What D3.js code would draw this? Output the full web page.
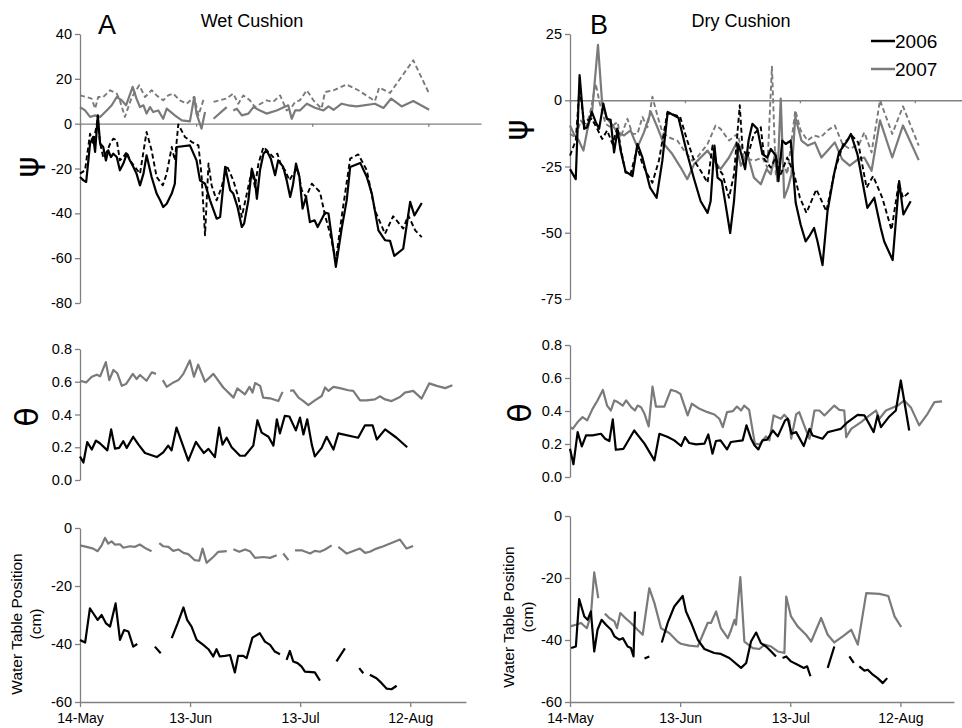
<!DOCTYPE html>
<html>
<head>
<meta charset="utf-8">
<script src="https://cdn.jsdelivr.net/npm/d3@7"></script>
<style>
  body { margin: 0; background: #fff; }
  svg text { font-family: Arial, "Liberation Sans", sans-serif; fill: #000; }
  .axis path, .axis line { stroke: #808080; stroke-width: 1.3; }
  .axis text { font-size: 14.5px; }
</style>
</head>
<body>
<div id="chart"></div>
<script>
// days since 14-May; null value = gap in record
const dateTicks  = [0, 30, 60, 90];
const dateLabels = ["14-May", "13-Jun", "13-Jul", "12-Aug"];
const years = ["2006", "2007"];

// ---- Wet cushion, water potential
const wetPsi06 = [[0,-23.8],[0.9,-25.3],[1.6,-26],[2.6,-8.9],[3.4,-5.9],[3.9,-12.6],[4.6,3.7],[5.2,-8.9],[6,-10.4],[6.7,-16.4],[7.3,-11.9],[8,-14.9],[8.6,-13.4],[9.5,-14.9],[10.3,-20.8],[11.2,-17.8],[12.1,-13.4],[12.9,-16.4],[13.8,-19.3],[14.6,-22.3],[15.5,-27.5],[16.4,-22.3],[17.2,-14.1],[18.5,-23.8],[19.8,-31.2],[20.7,-34.2],[21.5,-37.2],[22.4,-35.7],[23.7,-31.2],[24.5,-26.8],[25,-10.4],[28.4,-9.7],[30.1,-16.4],[31,-25.3],[32.3,-26.8],[33.6,-34.2],[35.3,-42.4],[36.2,-41.6],[37.5,-19.3],[38.8,-29.7],[39.6,-31.2],[40.7,-37.2],[41.8,-46.1],[42.4,-44.6],[43.5,-34.2],[44.4,-20.1],[45.2,-25.3],[45.7,-33.5],[46.5,-20.8],[47.4,-13.4],[48.2,-11.9],[49.3,-15.6],[50.4,-23],[51.2,-16.4],[52.5,-19.3],[53.4,-25.3],[54.3,-32.7],[55,-27.5],[55.8,-17.8],[56.7,-23.8],[57.5,-37.9],[58.4,-32.7],[59.4,-43.9],[60.6,-43.1],[61.4,-46.1],[63.3,-39.7],[64.2,-40.1],[66.1,-63.9],[67.6,-46.8],[68.9,-34.2],[69.8,-19.3],[72.4,-17.5],[74.1,-23.8],[75.4,-31.2],[77.1,-47.6],[78.8,-52],[80.1,-52.3],[81.2,-59],[83.5,-55.8],[85.3,-34.9],[86.4,-40.9],[88.3,-35.4]];
const wetPsi06b = [[0,-22.3],[1.3,-20.8],[2.6,-4.5],[3.4,-8.9],[4.6,2.2],[5.2,-8.9],[6,-14.9],[6.9,-12.6],[7.8,-8.9],[8.6,-6.7],[9.5,-7.4],[10.3,-16.4],[11.2,-14.9],[12.1,-12.6],[12.9,-16.4],[14.2,-19.3],[15.5,-22.3],[17.2,-3.7],[18.5,-11.9],[19.8,-23.8],[21.4,-27.5],[22.4,-22.3],[23.7,-10.4],[24.5,-16.4],[25.4,-0.3],[27.1,-5.9],[28.9,-8.2],[30.6,-9.7],[31.4,-23],[32.3,-49.8],[33.2,-17.8],[34,-27.5],[35.3,-34.2],[36.6,-28.3],[37.9,-18.6],[39.6,-25.3],[40.9,-32.7],[41.8,-41.6],[43.1,-31.2],[44.4,-20.8],[45.2,-28.3],[46.1,-17.8],[47.4,-10.4],[48.7,-12.6],[49.9,-14.9],[51,-13.4],[52.1,-19.3],[53,-20.8],[54.1,-25.3],[55.1,-22.3],[56.2,-20.1],[57.3,-29.7],[58.4,-32.7],[59.9,-26.8],[62,-30.5],[63.3,-40.9],[64.6,-49.1],[66.1,-61],[67.6,-41.6],[69.8,-15.6],[71.9,-13.7],[74.1,-20.8],[76.2,-38.7],[78.8,-49.1],[80.9,-41.3],[83.5,-46.8],[84.8,-40.9],[86.6,-47.6],[88.3,-50.6]];
const wetPsi07 = [[0,7.4],[1.3,5.9],[2.6,3],[3.9,3.7],[5.2,3],[6.9,5.9],[8.2,8.2],[9.5,11.9],[10.8,10.4],[11.9,8.2],[13.6,16.4],[14.6,11.2],[15.5,7.4],[16.4,8.2],[17.2,4.5],[18.1,7.4],[18.9,5.2],[20.2,5.9],[21.5,2.2],[22.4,6.7],[24.5,3.7],[26.3,1.5],[28.4,1],[29.5,11.9],[30.1,4.5],[31.4,-2.2],[32.3,5.2],[33.4,null],[34.5,2.2],[37.9,7.4],[38.8,null],[39.6,5.9],[40.5,6.7],[41.8,3.7],[43.5,4.5],[44.8,7.4],[46.5,5.9],[48.2,4.5],[50.8,5.9],[53.8,8.2],[54.7,2.2],[55.6,5.9],[56.8,5.9],[58.6,8.9],[60.7,7.1],[62.9,5.9],[64.2,7.7],[65.5,6.2],[67.6,8.9],[69.3,8.2],[71.5,7.7],[76.2,8.9],[78.4,7],[80.4,11.2],[83.1,7.7],[86.1,10.1],[90.2,6.2]];
const wetPsi07b = [[0,12.6],[1.7,11.9],[3,11.2],[3.9,6.7],[4.7,11.9],[6,11.9],[7.8,14.9],[9.5,13.4],[10.3,10.4],[11.6,3],[13.4,11.9],[15.3,17.1],[16.8,11.9],[18.5,14.9],[19.8,12.6],[21.5,10.4],[22.8,12.6],[24.1,13.4],[25.8,10.4],[27.6,8.9],[29.5,11.9],[30.6,3.7],[32,11.2],[33.2,null],[34.5,9.7],[37.9,11.2],[39.6,13.4],[40.9,8.9],[42.2,12.6],[43.9,10.4],[45.2,7.4],[48.2,10.4],[49.9,9.7],[51.7,12.6],[53.4,5.9],[54.7,7.4],[55.6,9.7],[56.8,10.4],[58.6,14.9],[60.3,10.4],[62.4,6.7],[63.3,14.1],[65.5,14.9],[68.9,17.5],[71.9,14.9],[76.2,10.1],[77.3,16.1],[80.1,13.7],[86.1,28.3],[90.2,13.4]];

// ---- Dry cushion, water potential
const dryPsi06 = [[0,-26],[1.5,-29.8],[2.5,9.5],[3.7,-10.8],[4.5,-10.2],[5.7,-4.4],[6.7,-8.2],[7.6,-10.8],[8.7,-1.3],[9.6,-7],[10.6,-7.4],[11.5,-19.7],[12.4,-11.2],[13.2,-19],[14.5,-26.9],[16.3,-28.6],[17.6,-16.5],[18.9,-21.6],[20.9,-33],[22.6,-36.8],[24.1,-22.8],[25.5,-4.4],[28.3,-6.6],[30.6,-20.3],[32.4,-29.8],[34.1,-38.1],[35.9,-42.5],[36.7,-38.1],[37.7,-17.1],[38.5,-29.2],[39.6,-30.5],[40.6,-39.3],[41.8,-50.1],[42.8,-38.1],[43.9,-16.5],[44.7,-20.3],[45.7,-26],[46.6,-15.2],[47.6,-8.9],[48.9,-10.8],[50.2,-20.3],[51.5,-21.6],[52.4,-18.4],[53.7,-20.9],[54.4,-30.5],[55.4,-15.2],[56.3,-16.5],[57.6,-15.2],[58.9,-38.7],[60.2,-47],[61.5,-53.3],[62.4,-51.4],[63.7,-48.2],[64.6,-53.3],[65.9,-62.2],[67.2,-41.9],[68.9,-27.9],[70.2,-19.7],[72.4,-15.2],[73.3,-12.7],[75,-20.3],[77.6,-40.6],[79.4,-36.8],[81.1,-48.2],[82,-53.3],[84.2,-60.3],[85.9,-30.5],[87,-43.1],[88.9,-38.1]];
const dryPsi06b = [[0,-20.9],[1.5,-15.2],[2.5,5.1],[3.7,-8.9],[4.5,-7.6],[5.7,-7],[7.1,-10.8],[8.4,-14.6],[9.7,-11.4],[11.1,-16.5],[12.4,-10.2],[13.2,-17.8],[14.5,-27.3],[15.8,-27.9],[17.6,-17.8],[18.9,-24.1],[20.2,-27.9],[21.5,-31.1],[23.2,-22.8],[25.4,-4.8],[28.7,-6.1],[30.6,-15.2],[32.4,-22.8],[34.1,-26.6],[35.9,-31.1],[37.2,-17.1],[38.5,-25.4],[39.8,-27.9],[41.5,-36.8],[42.8,-27.9],[44.3,-1.9],[45,-17.8],[46.3,-21.6],[48,-12.7],[49.8,-10.2],[50.7,-22.2],[52.4,-25.4],[53.7,-21.6],[55,-27.9],[56.7,-21.6],[58.5,-27.9],[60,-36.8],[61.7,-42.5],[64.3,-33.6],[66.9,-41.9],[69.1,-26.6],[71.3,-16.5],[73.5,-13.3],[75.2,-15.9],[77.4,-33],[79.1,-28.6],[81.5,-36.8],[83.9,-48.9],[85.8,-31.1],[86.9,-36.8],[88.7,-34.5]];
const dryPsi07 = [[0,-9.5],[1,-12.7],[2.3,-15.2],[3.5,-19],[4.5,-11.4],[5.8,-3.8],[7.3,20.9],[8.4,-1.3],[9.7,-7],[11.1,-9.5],[12.4,-12.1],[14.1,-13.3],[15.8,-11.4],[17.6,-17.8],[19.3,-12.1],[21.1,-4.4],[22.8,-10.2],[24.5,-16.5],[26.7,-20.3],[28.9,-25.4],[30.6,-29.8],[32.4,-24.1],[34.1,-21.6],[35.9,-19],[37.6,-22.8],[39.3,-26],[41.5,-21.6],[43.3,-16.5],[44.6,-24.7],[46.3,-20.3],[48,-29.2],[49.8,-31.7],[51.3,-26],[52.4,-27.9],[53.6,-19.7],[54.1,-30.5],[55,0.6],[55.9,-36.8],[56.9,-33],[57.8,-27.9],[58.8,-6.3],[60.4,-15.2],[62.1,-17.1],[63.9,-15.9],[65.6,-21.6],[67.6,-18.4],[69.1,-15.9],[71,-22.2],[73,-24.7],[75.2,-22.2],[76.8,-21.6],[78.7,-26.6],[80.9,-7.6],[84.1,-21.6],[86.9,-9.5],[91,-22.6]];
const dryPsi07b = [[0,-12.7],[1.5,-14],[2.8,-7.6],[4.1,-10.2],[5.4,-3.8],[6.7,6.3],[7.8,-1.3],[9.3,-8.9],[10.6,-10.2],[12.4,-8.2],[13.2,-14],[15,-7],[16.3,-12.7],[17.6,-12.7],[18.9,-6.3],[20.2,-10.2],[21.5,1.3],[22.8,-5.7],[24.1,-12.1],[25.8,-14],[28,-15.2],[29.8,-19],[31.9,-22.8],[33.2,-21.6],[35.9,-16.5],[38,-9.5],[39.3,-10.8],[41.5,-15.2],[43.7,-12.7],[45.4,-21.6],[48,-22.8],[50.2,-21.6],[51.5,-25.4],[52.7,12.7],[53.7,-27.9],[55,-20.3],[56.7,-27.9],[58.8,-3.8],[60.2,-11.4],[62,-15.2],[63.7,-13.3],[65.4,-14],[67.2,-11.4],[69.1,-9.5],[71.1,-16.5],[73,-18.4],[75.5,-16.5],[76.8,-12.1],[78.7,-19.7],[80.9,0],[84.1,-12.7],[86.9,-2.3],[91,-17.1]];

// ---- Volumetric water content
const wetTheta06 = [[0,.144],[0.9,.107],[1.9,.231],[3.1,.186],[4.2,.241],[5.3,.223],[7.2,.181],[8.2,.309],[9.2,.192],[10.3,.196],[11.4,.237],[12.3,.196],[14,.264],[15.4,.216],[17.1,.165],[20.2,.14],[21.9,.169],[23.2,.21],[24.1,.181],[25.4,.32],[27,.216],[28.5,.118],[30.5,.233],[31.6,.196],[32.6,.165],[33.8,.19],[35.5,.14],[36.6,.32],[37.5,.216],[38.6,.258],[39.9,.2],[42.1,.148],[43.4,.148],[45.6,.21],[46.7,.365],[47.8,.289],[49.6,.264],[50.9,.21],[51.8,.371],[52.6,.285],[53.9,.392],[55.1,.388],[56.8,.303],[57.9,.381],[58.8,.278],[59.8,.371],[61,.216],[61.8,.144],[63.6,.196],[64.9,.264],[66.7,.186],[68,.285],[73.2,.258],[75,.334],[77,.334],[78.1,.247],[80.3,.309],[83.3,.258],[86.1,.2]];
const wetTheta07 = [[0,.606],[1.6,.596],[3.1,.631],[4.4,.643],[5.3,.633],[6.8,.72],[7.7,.61],[8.8,.672],[9.8,.652],[11,.575],[12.1,.586],[13.9,.648],[14.9,.617],[15.8,.641],[17.5,.606],[18.9,.658],[20,.648],[20.9,null],[21.8,.61],[22.8,.569],[24.6,.596],[25.9,.61],[27.2,.648],[28.9,.73],[30,.631],[31.1,.705],[32.9,.6],[35.1,.648],[37.7,.565],[40.4,.503],[41.4,.559],[43.4,.523],[44.6,.569],[45.4,.534],[46.1,.592],[47.4,.575],[48.2,.503],[50,.499],[52.2,.482],[53.3,.538],[54.3,null],[55.3,.544],[56.1,.548],[57.5,.503],[58.8,.482],[60.1,.457],[61.8,.486],[63.6,.513],[64.5,.565],[65.4,.544],[66.7,.569],[68.4,.561],[70.6,.548],[71.9,.544],[73.7,.486],[75.4,.486],[77.6,.492],[78.9,.511],[80.3,.492],[82,.482],[84.2,.507],[85.5,.534],[87.7,.544],[89.9,.497],[91.9,.59],[93.9,.575],[96.1,.561],[98,.579]];
const dryTheta06 = [[0,.171],[0.9,.077],[2,.272],[3.1,.185],[4.2,.252],[5.9,.252],[8.1,.262],[9.2,.232],[10.3,.218],[11.2,.349],[12,.165],[14,.171],[16.8,.282],[19.5,.202],[22.1,.101],[23.4,.262],[25.6,.242],[27.3,.222],[29.1,.188],[30.1,.242],[31.2,.206],[33,.198],[35.2,.202],[36.2,.258],[37.3,.141],[38.2,.218],[39.4,.222],[41.1,.167],[42.1,.212],[45.2,.222],[46.2,.313],[47.4,.232],[48.3,.192],[49.3,.167],[50.4,.222],[51.6,.226],[53.1,.282],[54.4,.246],[56.3,.343],[57,.353],[58,.262],[59.2,.272],[61.2,.188],[62.7,.292],[63.5,.252],[66.1,.232],[67.5,.272],[69.2,.282],[70.9,.292],[72.7,.333],[75.3,.377],[77.1,.373],[79.5,.272],[80.5,.373],[81.4,.302],[83.6,.367],[85.3,.403],[86.6,.585],[88.8,.282]];
const dryTheta07 = [[0.1,.302],[0.7,.292],[2,.333],[3.3,.363],[4.5,.343],[5.9,.413],[7.2,.464],[8.6,.528],[9.7,.433],[10.7,.403],[11.6,.464],[12.5,.454],[13.8,.433],[14.7,.464],[16,.423],[17,.403],[17.7,.433],[18.6,.423],[19.5,.383],[20.6,.306],[21.6,.548],[22.5,.427],[24.7,.427],[26.4,.528],[27.7,.52],[28.9,.504],[30.8,.373],[31.9,.444],[33.9,.413],[36,.393],[37.8,.379],[39.1,.353],[40,.302],[41.1,.393],[42.6,.399],[43.7,.427],[44.8,.403],[45.6,.433],[46.9,.407],[47.8,.282],[48.4,.202],[49.6,.198],[51.3,.246],[52.2,.222],[53.3,.373],[55.2,.353],[56.1,.377],[57.4,.343],[57.9,.232],[59.2,.379],[60,.393],[61.3,.313],[62.7,.232],[64,.403],[65.3,.403],[66.6,.373],[69.2,.433],[70.5,.407],[71.8,.403],[72.3,.242],[73.6,.292],[76.2,.333],[78.4,.373],[80.1,.403],[81,.353],[82.7,.403],[85.8,.433],[87.5,.464],[89.3,.419],[91.4,.313],[93.6,.383],[95.4,.454],[97.4,.458]];

// ---- Water table position (cm)
const wetWT06 = [[0,-38.6],[1.4,-39.5],[2.7,-27.7],[3.6,-29.4],[4.8,-31.7],[5.9,-30],[7.1,-32.9],[8.2,-34],[9.7,-26],[10.9,-38.6],[12,-35.2],[13.2,-35.7],[14.5,-40.9],[15.6,-40],[18,null],[20.4,-40.9],[22,-43.2],[23.5,null],[25,-38],[26.6,-32.9],[28.2,-27.4],[29.2,-31.7],[30.4,-34],[31.8,-38.6],[33.6,-40.3],[35,-41.8],[36.3,-44.3],[37.2,-41.8],[38.1,-44.3],[39.5,-44.1],[40.9,-43.8],[42.2,-49.8],[43.1,-44.1],[44.5,-44.1],[45.4,-44.9],[47,-37.8],[49,-36.3],[50.4,-39.2],[51.8,-40.3],[53.1,-42.6],[54.5,-43.5],[55.4,null],[56.3,-45.5],[57.2,-42.4],[58.1,-46],[59.3,-46.6],[60.4,-47.8],[61.3,-49.5],[64,-49.8],[65.4,-52.6],[67.5,null],[69.9,-46],[72.2,-41.5],[74,null],[76.1,-48.3],[77.2,-50.1],[78.1,null],[79,-50.6],[80.8,-51.8],[82.2,-53.5],[83.6,-55.4],[84.9,-55.6],[86.3,-54.4]];
const wetWT07 = [[0,-6],[1.8,-6.5],[3.6,-7.1],[4.8,-8],[5.9,-6],[6.8,-3.4],[7.7,-5.4],[8.6,-4.6],[9.5,-5.7],[10.9,-5.6],[11.8,-6.8],[13.6,-6.3],[15,-6.5],[16.3,-5.7],[18,-7.1],[19.5,-8],[20.5,null],[21.6,-5.2],[22.7,-6.3],[24.1,-6.5],[25.4,-7.9],[26.8,-7.4],[28.2,-8.6],[29.5,-9],[31.3,-11.1],[32.5,-11.3],[33.4,-7.1],[34.5,-12],[36.3,-10],[37.7,-8.2],[40,-8],[40.9,null],[41.8,-7.3],[43.4,-8.2],[45,-7.4],[46.3,-8],[47.7,-10.3],[50,-10],[51.8,-10.3],[53.6,-9.4],[54.5,null],[55.4,-8.8],[56.8,-11.1],[57.7,null],[58.6,-7.7],[60.4,-7.7],[62.7,-8.8],[64,-7.9],[65.4,-8.2],[66.8,-7.4],[68.6,-6],[69.5,null],[70.4,-6.5],[72.7,-8.8],[76.3,-7.1],[77.7,-8.6],[79,-8.2],[80.8,-7.1],[82.7,-6.3],[87.2,-4],[89,-7.1],[90.8,-6.2]];
const dryWT06 = [[0.3,-42.6],[1.6,-42.1],[2.5,-26.8],[3.9,-32.4],[4.8,-33.5],[5.7,-30.8],[6.6,-43.7],[7.5,-36.7],[8.6,-33.5],[9.8,-35.1],[11.2,-36.7],[12.1,-38.8],[13.4,-39.9],[14.4,-39.4],[15.7,-42.1],[16.6,-42.6],[17.3,-45.3],[17.7,-30.8],[19,null],[20.3,-46],[21.6,-45.3],[23,null],[25,-40.8],[26.6,-34.5],[28.4,-29.2],[30.7,-25.8],[31.6,-30.8],[33,-34.5],[34.8,-39.9],[36.6,-42.9],[39.3,-44.2],[41.1,-44.5],[43.4,-45.8],[46.6,-49],[48,-47.4],[49.3,-40.5],[50.7,-37.6],[52,-41],[53.4,-42.1],[54.8,-43.7],[56.1,-45.3],[57,null],[57.9,-45.8],[58.9,-45.3],[60.2,-46.9],[62,-48],[63.7,-49],[64.6,-48.5],[65.5,-51.7],[68,null],[70.2,-49],[72,-42.1],[74,null],[76.1,-45.3],[77.3,-47.4],[78,null],[78.8,-48.5],[80.2,-49.9],[81.1,-49.6],[82.5,-51.2],[83.8,-52.3],[85.2,-53.9],[86.4,-52.3]];
const dryWT07 = [[0.1,-35.6],[1.6,-35.1],[3,-34.5],[4.6,-36.2],[5.7,-31.9],[6.6,-18.2],[7.7,-26.5],[8.6,null],[9.5,-31.5],[10.7,-32.9],[12.1,-34],[12.8,-36.2],[13.7,-31.3],[14.8,-32.6],[16.6,-34.5],[18.4,-36.7],[19.8,-38.3],[21.6,-23.3],[23,-28.1],[24.8,-36.2],[27.1,-37.8],[29.3,-40.5],[30.2,-41.2],[32.5,-41.8],[34.8,-42.1],[37.5,-34.5],[38.4,-34.5],[39.8,-30.8],[41.1,-36.2],[43,-39.4],[43.9,-36.7],[44.8,-33.5],[45.2,-35.1],[46.4,-19.7],[47.5,-40.5],[49.8,-42.6],[51.6,-42.9],[53,-41.5],[54.8,-42.1],[56.6,-43.7],[58.4,-44.2],[58.9,-26],[60.2,-32.4],[62,-35.6],[64.3,-38.3],[65.7,-40.5],[68.4,-32.9],[70.2,-38.3],[72,-40.8],[74.3,-38.8],[76.6,-36.7],[78.4,-41.5],[80.7,-24.9],[84.3,-25.1],[86.7,-25.8],[88.4,-32.4],[90.2,-35.8]];

const black = "#000";
const gray  = "#7a7a7a";

const svg = d3.select("#chart").append("svg")
    .attr("width", 962).attr("height", 728);

function drawPanel(p) {
    const x = d3.scaleLinear().domain(p.xDomain).range(p.xRange);
    const y = d3.scaleLinear().domain(p.yDomain).range(p.yRange);
    const g = svg.append("g");

    // y axis
    g.append("g")
        .attr("class", "axis")
        .attr("transform", `translate(${p.xRange[0]},0)`)
        .call(d3.axisLeft(y).tickValues(p.yTicks).tickSize(5).tickSizeOuter(0)
            .tickFormat(p.yFormat || d3.format("d")))
        .call(a => a.selectAll("text").text(function () { return this.textContent.replace("−", "-"); }));

    // x axis (zero line for psi panels, dates for the water table)
    if (p.xAxis === "zero") {
        g.append("g")
            .attr("class", "axis")
            .attr("transform", `translate(0,${y(0)})`)
            .call(d3.axisBottom(x).tickValues(dateTicks).tickSize(3).tickSizeOuter(0).tickFormat(""));
    } else if (p.xAxis === "dates") {
        g.append("g")
            .attr("class", "axis")
            .attr("transform", `translate(0,${p.yRange[0]})`)
            .call(d3.axisBottom(x).tickValues(dateTicks).tickSize(5).tickSizeOuter(0)
                .tickFormat((d, i) => dateLabels[i]))
            .call(a => a.selectAll("text").attr("dy", "0.9em").style("font-size", "14px"));
    }

    const line = d3.line()
        .defined(d => d[1] !== null)
        .x(d => x(d[0]))
        .y(d => y(d[1]));

    p.series.forEach(s => {
        g.append("path")
            .datum(s.data)
            .attr("d", line)
            .attr("fill", "none")
            .attr("stroke", s.color)
            .attr("stroke-width", s.dash ? 1.9 : 2.2)
            .attr("stroke-linejoin", "round")
            .attr("stroke-dasharray", s.dash ? "5,3" : null);
    });

    // rotated symbol / axis title
    if (p.symbol) {
        g.append("text")
            .attr("transform", `translate(${p.symbol.x},${p.symbol.y}) rotate(-90)`)
            .attr("text-anchor", "middle")
            .style("font-size", "32px")
            .style("font-family", "'DejaVu Sans', sans-serif")
            .text(p.symbol.t);
    }
    if (p.title) {
        const t = g.append("text")
            .attr("transform", `translate(${p.title.x},${p.title.y}) rotate(-90)`)
            .attr("text-anchor", "middle")
            .style("font-size", "15.5px");
        t.append("tspan").attr("x", 0).attr("dy", 0).text("Water Table Position");
        t.append("tspan").attr("x", 0).attr("dy", "1.25em").text("(cm)");
    }
}

// ---- Column A : wet cushion
drawPanel({
    xDomain: [0, 103.6], xRange: [80, 481],
    yDomain: [40, -80], yRange: [34, 303], yTicks: [40, 20, 0, -20, -40, -60, -80],
    xAxis: "zero", symbol: { x: 38, y: 167, t: "ψ" },
    series: [
        { data: wetPsi07,  color: gray },
        { data: wetPsi07b, color: gray, dash: true },
        { data: wetPsi06,  color: black },
        { data: wetPsi06b, color: black, dash: true }
    ]
});
drawPanel({
    xDomain: [0, 100], xRange: [80, 460],
    yDomain: [0.8, 0], yRange: [349, 480], yTicks: [0, 0.2, 0.4, 0.6, 0.8], yFormat: d3.format(".1f"),
    symbol: { x: 38, y: 417, t: "θ" },
    series: [
        { data: wetTheta07, color: gray },
        { data: wetTheta06, color: black }
    ]
});
drawPanel({
    xDomain: [0, 105.2], xRange: [80, 466],
    yDomain: [-60, 0], yRange: [702, 528], yTicks: [0, -20, -40, -60],
    xAxis: "dates", title: { x: 22, y: 624 },
    series: [
        { data: wetWT07, color: gray },
        { data: wetWT06, color: black }
    ]
});

// ---- Column B : dry cushion
drawPanel({
    xDomain: [0, 102.3], xRange: [570, 962],
    yDomain: [25, -75], yRange: [34, 299], yTicks: [25, 0, -25, -50, -75],
    xAxis: "zero", symbol: { x: 527, y: 130, t: "ψ" },
    series: [
        { data: dryPsi07,  color: gray },
        { data: dryPsi07b, color: gray, dash: true },
        { data: dryPsi06,  color: black },
        { data: dryPsi06b, color: black, dash: true }
    ]
});
drawPanel({
    xDomain: [0, 100], xRange: [570, 952],
    yDomain: [0.8, 0], yRange: [345, 477], yTicks: [0, 0.2, 0.4, 0.6, 0.8], yFormat: d3.format(".1f"),
    symbol: { x: 531, y: 413, t: "θ" },
    series: [
        { data: dryTheta07, color: gray },
        { data: dryTheta06, color: black }
    ]
});
drawPanel({
    xDomain: [0, 104.6], xRange: [570, 954],
    yDomain: [-60, 0], yRange: [702, 516], yTicks: [0, -20, -40, -60],
    xAxis: "dates", title: { x: 514, y: 617 },
    series: [
        { data: dryWT07, color: gray },
        { data: dryWT06, color: black }
    ]
});

// ---- panel letters and headings
svg.append("text").attr("x", 107).attr("y", 34).attr("text-anchor", "middle")
    .style("font-size", "27px").text("A");
svg.append("text").attr("x", 252).attr("y", 27).attr("text-anchor", "middle")
    .style("font-size", "18px").text("Wet Cushion");
svg.append("text").attr("x", 599).attr("y", 34).attr("text-anchor", "middle")
    .style("font-size", "27px").text("B");
svg.append("text").attr("x", 741).attr("y", 27).attr("text-anchor", "middle")
    .style("font-size", "18px").text("Dry Cushion");

// ---- legend
const legend = svg.append("g").attr("transform", "translate(871,41)");
years.forEach((yr, i) => {
    const row = legend.append("g").attr("transform", `translate(0,${i * 28})`);
    row.append("line").attr("x1", 0).attr("x2", 24).attr("y1", 0).attr("y2", 0)
        .attr("stroke", i === 0 ? black : gray).attr("stroke-width", 2.5);
    row.append("text").attr("x", 24).attr("y", 7).style("font-size", "19px").text(yr);
});
</script>
</body>
</html>
